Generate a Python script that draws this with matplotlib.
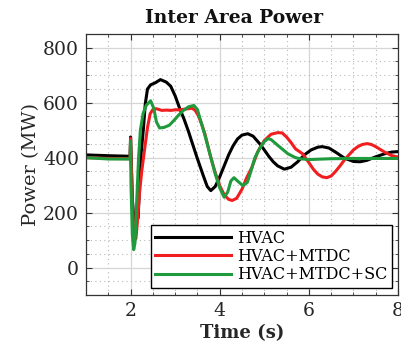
import matplotlib
matplotlib.use("Agg")
import matplotlib.pyplot as plt
from matplotlib.ticker import MultipleLocator

# Inter-area tie-line power after a fault at t = 2 s
t_hvac = [1.0, 1.5, 1.99, 2.0, 2.01, 2.04, 2.08, 2.11, 2.14, 2.17, 2.2, 2.24,
          2.29, 2.33, 2.38, 2.45, 2.55, 2.67, 2.8, 2.9, 3.0, 3.1, 3.2, 3.3,
          3.4, 3.5, 3.63, 3.72, 3.8, 3.9, 4.0, 4.1, 4.2, 4.3, 4.4, 4.5, 4.63,
          4.75, 4.9, 5.0, 5.1, 5.2, 5.3, 5.45, 5.6, 5.75, 5.9, 6.05, 6.2, 6.3,
          6.45, 6.6, 6.8, 7.0, 7.15, 7.3, 7.5, 7.7, 7.85, 8.0]
p_hvac = [410, 407, 405, 475, 420, 250, 160, 145, 175, 180, 300, 420,
          509, 596, 650, 665, 672, 684, 675, 660, 625, 580, 540, 495,
          445, 396, 335, 295, 280, 295, 330, 370, 410, 443, 468, 482, 487,
          478, 450, 428, 405, 385, 370, 358, 365, 385, 410, 428, 438, 440,
          435, 420, 398, 386, 385, 390, 403, 414, 420, 422]

t_mtdc = [1.0, 1.5, 1.99, 2.0, 2.01, 2.05, 2.09, 2.12, 2.15, 2.2, 2.25, 2.31,
          2.38, 2.44, 2.5, 2.58, 2.7, 2.8, 2.9, 3.0, 3.1, 3.2, 3.29, 3.38,
          3.45, 3.52, 3.6, 3.67, 3.79, 3.9, 4.0, 4.1, 4.2, 4.28, 4.38, 4.5,
          4.6, 4.72, 4.85, 5.0, 5.15, 5.3, 5.4, 5.5, 5.6, 5.7, 5.86, 6.0,
          6.1, 6.2, 6.3, 6.4, 6.5, 6.6, 6.7, 6.8, 6.9, 7.0, 7.1, 7.2, 7.31,
          7.4, 7.5, 7.6, 7.7, 7.85, 8.0]
p_mtdc = [400, 397, 396, 470, 400, 200, 110, 105, 160, 270, 350, 425,
          510, 560, 575, 578, 572, 573, 572, 574, 574, 576, 578, 580,
          572, 553, 520, 485, 407, 345, 298, 265, 248, 244, 252, 285,
          325, 364, 420, 462, 485, 491, 490, 475, 455, 432, 414, 382,
          358, 340, 330, 327, 333, 350, 370, 392, 410, 428, 440, 448, 451,
          448, 440, 430, 420, 408, 402]

t_sc = [1.0, 1.5, 1.99, 2.0, 2.01, 2.04, 2.07, 2.1, 2.14, 2.18, 2.22, 2.28,
        2.35, 2.45, 2.52, 2.58, 2.65, 2.75, 2.87, 2.97, 3.08, 3.18, 3.3,
        3.42, 3.5, 3.58, 3.67, 3.79, 3.9, 4.0, 4.1, 4.18, 4.25, 4.32, 4.4,
        4.52, 4.62, 4.7, 4.79, 4.9, 5.0, 5.08, 5.15, 5.3, 5.45, 5.53, 5.7,
        5.8, 6.0, 6.5, 7.0, 7.5, 8.0]
p_sc = [400, 395, 395, 460, 300, 120, 65, 90, 250, 400, 500, 560,
        590, 607, 580, 530, 508, 510, 518, 535, 555, 571, 585,
        590, 575, 530, 480, 407, 340, 290, 256, 275, 315, 327, 315,
        298, 310, 350, 400, 435, 458, 469, 466, 445, 425, 414, 400,
        396, 393, 396, 397, 397, 397]

series_labels = ["HVAC", "HVAC+MTDC", "HVAC+MTDC+SC"]
series_colors = ["#000000", "#f01e1e", "#1f9a3c"]

x_ticks = [2, 4, 6, 8]
y_ticks = [0, 200, 400, 600, 800]

plt.rcParams["font.family"] = ["DejaVu Serif"]

fig = plt.figure(figsize=(4.02, 3.5), dpi=100)
ax = fig.add_axes([86 / 402, 1 - 295 / 350, 312 / 402, 261 / 350])

for t, p, lab, col in zip([t_hvac, t_mtdc, t_sc], [p_hvac, p_mtdc, p_sc],
                          series_labels, series_colors):
    ax.plot(t, p, color=col, lw=2.2, label=lab, solid_joinstyle="round")

ax.set_xlim(1, 8)
ax.set_ylim(-100, 850)
ax.set_xticks(x_ticks)
ax.set_yticks(y_ticks)
ax.xaxis.set_minor_locator(MultipleLocator(0.5))
ax.yaxis.set_minor_locator(MultipleLocator(50))

ax.grid(True, which="major", color="#d6d6d6", lw=0.9)
ax.grid(True, which="minor", color="#b8b8b8", lw=0.8, linestyle=(0, (1, 3)))
ax.set_axisbelow(True)

ax.tick_params(which="both", direction="in", top=True, right=True,
               colors="#333333", labelcolor="#262626")
ax.tick_params(which="major", length=4, labelsize=13.5, pad=5)
ax.tick_params(which="minor", length=2)
for s in ax.spines.values():
    s.set_color("#333333")
    s.set_linewidth(0.9)

title = ax.set_title("Inter Area Power", fontsize=13.5, fontweight="bold",
                     color="#111111", pad=8)
title.set_x(0.475)
ax.set_xlabel("Time (s)", fontsize=13, fontweight="bold", color="#262626",
              labelpad=3)
ax.set_ylabel("Power (MW)", fontsize=14, color="#262626", labelpad=2)

leg = ax.legend(loc="lower right", bbox_to_anchor=(0.981, 0.027),
                borderaxespad=0, fontsize=11.5, handlelength=4.7,
                fancybox=False, framealpha=1, edgecolor="#000000",
                labelspacing=0.08, borderpad=0.3, handletextpad=0.4)
leg.get_frame().set_linewidth(1.0)

fig.savefig("out.png", dpi=100)
